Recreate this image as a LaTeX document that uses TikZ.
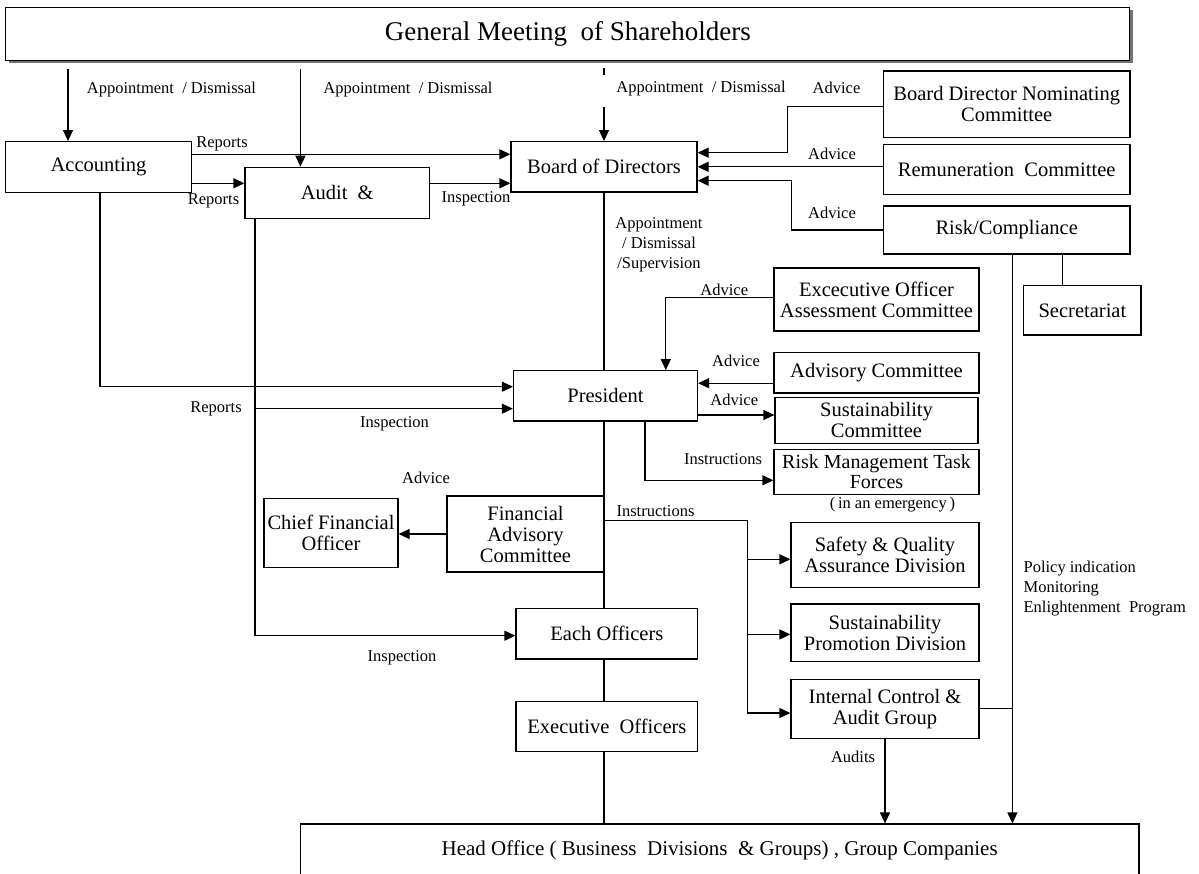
\documentclass[tikz,border=0pt]{standalone}
\usepackage{fontspec}
\setmainfont{Liberation Serif}
\usepackage{tikz}
\usetikzlibrary{positioning, arrows.meta, calc, shadows}
\tikzset{org node/.style={draw, rectangle, fill=white, line width=1.2pt, inner sep=2pt, align=center, font=\fontsize{20.5}{21}\selectfont},
	tag node/.style={inner sep=0pt, align=center, font=\fontsize{16.5}{20}\selectfont},}

\begin{document}
\begin{tikzpicture}[x=1pt, y=-1pt, >={Triangle[length=11pt, width=10pt]}, line width=1.2pt]
	\path[use as bounding box, fill=white] (0,0) rectangle (1199,874);
	% Boxes
	\node[org node, minimum width=1124pt, minimum height=53pt, font=\fontsize{27}{27}\selectfont,
		drop shadow={shadow xshift=3pt, shadow yshift=-3pt, fill=black!55, opacity=1}] (gm) at (567.8,34) {General Meeting~ of Shareholders};
	\node[org node, minimum width=185.7pt, minimum height=50.6pt] (acc) at (98.5,167) {Accounting};
	\node[org node, minimum width=184.4pt, minimum height=51pt] (aud) at (337.2,192.8) {Audit~ \&};
	\node[org node, minimum width=186pt, minimum height=50.3pt] (bod) at (604,166.8) {Board of Directors};
	\node[org node, minimum width=246.6pt, minimum height=66.7pt] (bdnc) at (1006.7,104.3) {Board Director Nominating\\Committee};
	\node[org node, minimum width=246.6pt, minimum height=50pt] (rem) [below=6pt of bdnc] {Remuneration~ Committee};
	\node[org node, minimum width=246.6pt, minimum height=48pt] (risk) [below=10pt of rem] {Risk/Compliance};
	\node[org node, minimum width=117.2pt, minimum height=49.3pt] (sec) at (1082.4,310.4) {Secretariat};
	\node[org node, minimum width=205pt, minimum height=63pt] (eoac) at (876.5,299.5) {Excecutive Officer\\Assessment Committee};
	\node[org node, minimum width=205pt, minimum height=40pt] (adv) [below=20.7pt of eoac] {Advisory Committee};
	\node[org node, minimum width=203pt, minimum height=45.7pt] (susc) [below=3.3pt of adv] {Sustainability\\Committee};
	\node[org node, minimum width=205pt, minimum height=45pt, font=\fontsize{20}{20}\selectfont] (rmtf) [below=5pt of susc] {Risk Management Task\\Forces};
	\node[org node, minimum width=184pt, minimum height=50.3pt] (pres) at (605.5,395.9) {President};
	\node[org node, minimum width=134pt, minimum height=69pt] (cfo) at (331,532.8) {Chief Financial\\Officer};
	\node[org node, minimum width=157pt, minimum height=76pt] (fac) at (525.5,534) {Financial\\Advisory\\Committee};
	\node[org node, minimum width=188pt, minimum height=64.6pt] (sqa) at (885,555) {Safety \& Quality\\Assurance Division};
	\node[org node, minimum width=188pt, minimum height=57.3pt] (spd) [below=15.4pt of sqa] {Sustainability\\Promotion Division};
	\node[org node, minimum width=188pt, minimum height=59.3pt] (icag) [below=16.7pt of spd] {Internal Control \&\\Audit Group};
	\node[org node, minimum width=181.8pt, minimum height=50.7pt] (each) at (606.9,633.7) {Each Officers};
	\node[org node, minimum width=181.8pt, minimum height=50pt] (exec) [below=41pt of each] {Executive~ Officers};
	\node[org node, minimum width=838.6pt, minimum height=52pt, font=\fontsize{21}{21}\selectfont] (hq) at (719.7,850) {Head Office ( Business~ Divisions~ \& Groups) , Group Companies};
	% Labels
	\node[tag node] (l1) at (171.5,90) {Appointment~ / Dismissal};
	\node[tag node] (l2) at (408,90) {Appointment~ / Dismissal};
	\node[tag node] (l3) at (701,89) {Appointment~ / Dismissal};
	\node[tag node] (l4) at (222,144) {Reports};
	\node[tag node] (l5) at (213.5,201) {Reports};
	\node[tag node] (l6) at (476,199) {Inspection};
	\node[tag node] (l7) at (836.5,88) {Advice};
	\node[tag node] (l8) at (832,154) {Advice};
	\node[tag node] (l9) at (832,213) {Advice};
	\node[tag node] (l10) at (659,245) {Appointment\\/ Dismissal\\/Supervision};
	\node[tag node] (l11) at (724.3,290) {Advice};
	\node[tag node] (l12) at (736,361) {Advice};
	\node[tag node] (l13) at (734.3,400) {Advice};
	\node[tag node] (l14) at (723,459) {Instructions};
	\node[tag node] (l15) at (892.4,505) {(\,in an emergency\,)};
	\node[tag node] (l16) at (216,409) {Reports};
	\node[tag node] (l17) at (394.5,424) {Inspection};
	\node[tag node] (l18) at (426,478) {Advice};
	\node[tag node] (l19) at (655.5,511.5) {Instructions};
	\node[tag node] (l20) at (402,658) {Inspection};
	\node[tag node] (l21) at (853,757) {Audits};
	\node[tag node, anchor=west, align=left] (l22) at (1023,589) {Policy indication\\Monitoring\\Enlightenment~ Program};
	% Paths
	\coordinate (a1) at (68,69);
	\coordinate (a2) at (300.4,69);
	\coordinate (t3) at (604,68);
	\coordinate (a3) at (604,107);
	\draw[->] (a1) -- (a1 |- acc.north);
	\draw[->] (a2) -- (a2 |- aud.north);
	\draw (t3) -- ++(0,7);
	\draw[->] (a3) -- (a3 |- bod.north);
	\coordinate (r1) at ([yshift=12.7pt]acc.east);
	\draw[->] (r1) -- (r1 -| bod.west);
	\coordinate (r2) at ([yshift=-16.3pt]acc.east);
	\draw[->] (r2) -- (r2 -| aud.west);
	\coordinate (r3) at ([yshift=9.5pt]aud.east);
	\draw[->] (r3) -- (r3 -| bod.west);
	\coordinate (p1) at ([yshift=9.2pt]pres.west);
	\draw[->] ([xshift=1.5pt]acc.south) |- (p1);
	\coordinate (aline) at ([xshift=10.5pt]aud.south west);
	\coordinate (p2) at ([yshift=-12.8pt]pres.west);
	\coordinate (e1) at ([yshift=-2pt]each.west);
	\draw[->] (aline) |- (e1);
	\draw[->] (aline |- p2) -- (p2);
	% Committees to board
	\coordinate (b1) at ([yshift=14.1pt]bod.east);
	\draw[->] ([yshift=-2.4pt]bdnc.west) -| ([xshift=89.7pt]b1) -- (b1);
	\coordinate (b2) at ([yshift=3pt]rem.west);
	\draw[->] (b2) -- (b2 -| bod.east);
	\coordinate (b3) at ([yshift=-13.9pt]bod.east);
	\draw[->] (risk.west) -| ([xshift=93.7pt]b3) -- (b3);
	% Trunk
	\draw (bod.south) -- (bod.south |- pres.north);
	\draw (bod.south |- pres.south) -- (bod.south |- each.north);
	\draw (bod.south |- each.south) -- (bod.south |- exec.north);
	\draw (bod.south |- exec.south) -- (bod.south |- hq.north);
	% President
	\draw[->] ([yshift=1.8pt]eoac.west) -| ([xshift=60.3pt]pres.north);
	\coordinate (q1) at ([yshift=-10.3pt]adv.west);
	\draw[->] (q1) -- (q1 -| pres.east);
	\coordinate (q2) at ([yshift=-19.1pt]pres.east);
	\draw[->] (q2) -- (q2 -| susc.west);
	\draw[->] ([xshift=39.5pt]pres.south) |- ([yshift=-8.5pt]rmtf.west);
	\draw[->] (fac.west) -- (fac.west -| cfo.east);
	% Instructions
	\coordinate (ins) at (747.8,520.7);
	\coordinate (s1) at ([yshift=-4.3pt]sqa.west);
	\coordinate (s2) at ([yshift=-1.9pt]spd.west);
	\coordinate (s3) at ([yshift=-4.3pt]icag.west);
	\draw (bod.south |- ins) -- (ins);
	\draw[->] (ins) |- (s3);
	\draw[->] (ins |- s1) -- (s1);
	\draw[->] (ins |- s2) -- (s2);
	% Risk/Compliance
	\coordinate (rl) at ([xshift=5.7pt]risk.south);
	\draw[->] (rl) -- (rl |- hq.north);
	\coordinate (sl) at ([xshift=-19.8pt]sec.north);
	\draw (sl) -- (sl |- risk.south);
	\draw (icag.east) -- (icag.east -| rl);
	\draw[->] (icag.south) -- (icag.south |- hq.north);
\end{tikzpicture}
\end{document}
